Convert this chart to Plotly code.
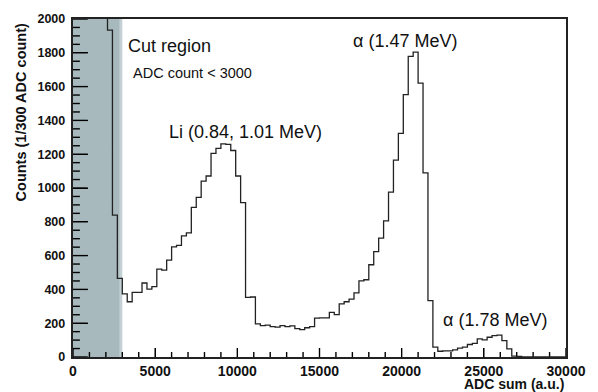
import numpy as np
import plotly.graph_objects as go

# ---- data ----
bin_width = 300
x_min, x_max = 0, 30000
y_min, y_max = 0, 2000
# counts per 300-ADC bin, starting at 0 (first bins are off-scale)
counts = [
    6000, 6000, 6000, 6000, 6000, 6000, 6000, 1934, 840, 465,
    373, 327, 382, 382, 438, 402, 416, 520, 514, 573,
    652, 660, 717, 735, 885, 945, 1041, 1071, 1205, 1234,
    1261, 1258, 1222, 1071, 913, 353, 355, 196, 186, 189,
    180, 177, 186, 180, 184, 168, 162, 173, 180, 230,
    232, 231, 264, 251, 314, 327, 343, 379, 451, 457,
    546, 624, 703, 805, 976, 1165, 1323, 1553, 1779, 1804,
    1621, 1090, 333, 58, 34, 36, 36, 42, 52, 58,
    74, 81, 107, 101, 117, 127, 130, 97, 48, 5,
    3, 0, 0, 0, 0, 0, 0, 0, 0, 0,
]
cut_value = 3000
x_ticks = [0, 5000, 10000, 15000, 20000, 25000, 30000]
y_ticks = [0, 200, 400, 600, 800, 1000, 1200, 1400, 1600, 1800, 2000]
x_minor_step = 1000
y_minor_step = 50

labels = [
    # text, x, y, size
    ("Cut region", 3230, 1841, 18),
    ("ADC count < 3000", 3530, 1680, 14.5),
    ("Li (0.84, 1.01 MeV)", 5690, 1329, 18),
    ("α (1.47 MeV)", 16890, 1868, 18),
    ("α (1.78 MeV)", 22400, 218, 18),
]

# ---- layout geometry ----
W, H = 598, 392
ML, MR, MT, MB = 73, 24, 17, 35
plot_w = W - ML - MR
plot_h = H - MT - MB
x_per_px = (x_max - x_min) / plot_w
y_per_px = (y_max - y_min) / plot_h

# ---- build the step histogram ----
edges = np.arange(len(counts) + 1) * bin_width
xs = [float(v) for v in edges]
ys = [float(v) for v in counts] + [float(counts[-1])]

FONT = "Liberation Sans, Arial, Helvetica, sans-serif"

fig = go.Figure()

# cut region shading
fig.add_shape(type="rect", xref="x", yref="paper", x0=0, x1=cut_value * 0.95,
              y0=0, y1=1, fillcolor="#a7b9bd", line=dict(width=0), layer="below")
fig.add_shape(type="rect", xref="x", yref="paper", x0=cut_value * 0.95, x1=cut_value,
              y0=0, y1=1, fillcolor="#c3d1d4", line=dict(width=0), layer="below")

# ROOT-style inside ticks (major + minor) derived from the axis tick arrays
tx, ty = [], []
for v in range(x_min, x_max + 1, x_minor_step):
    length = (9 if v in x_ticks else 5) * y_per_px
    tx += [float(v), float(v), None]
    ty += [float(y_min), float(y_min + length), None]
for v in range(y_min, y_max + 1, y_minor_step):
    length = (15 if v in y_ticks else 7) * x_per_px
    tx += [float(x_min), float(x_min + length), None]
    ty += [float(v), float(v), None]
fig.add_trace(go.Scatter(x=tx, y=ty, mode="lines", connectgaps=False,
                         line=dict(color="#000000", width=1.4),
                         hoverinfo="skip", showlegend=False))

fig.add_trace(go.Scatter(
    x=xs, y=ys, mode="lines", line=dict(shape="hv", color="#222222", width=1.3),
    hoverinfo="skip", showlegend=False,
))

for text, lx, ly, size in labels:
    fig.add_annotation(x=lx, y=ly, xref="x", yref="y", text=text, showarrow=False,
                       xanchor="left", yanchor="middle",
                       font=dict(family=FONT, size=size, color="#111111"))

# axis titles (ROOT style: right/top aligned)
fig.add_annotation(x=1, y=-0.081, xref="paper", yref="paper", text="ADC sum (a.u.)",
                   showarrow=False, xanchor="right", yanchor="middle",
                   font=dict(family=FONT, size=14, color="#111111", weight="bold"))
fig.add_annotation(x=-0.106, y=0.992, xref="paper", yref="paper",
                   text="Counts (1/300 ADC count)", textangle=-90,
                   showarrow=False, xanchor="center", yanchor="top",
                   font=dict(family=FONT, size=14.5, color="#111111", weight="bold"))

fig.update_xaxes(
    range=[x_min, x_max], tickmode="array", tickvals=x_ticks,
    ticktext=[str(v) for v in x_ticks],
    ticks="inside", ticklen=9, tickwidth=1, tickcolor="#000000",
    showline=True, linecolor="#222222", linewidth=1.5, mirror=True,
    showgrid=False, zeroline=False,
    tickfont=dict(family=FONT, size=14, color="#111111", weight="bold"),
)
fig.update_yaxes(
    range=[y_min, y_max], tickmode="array", tickvals=y_ticks,
    ticktext=[str(v) + "\u00a0" for v in y_ticks],
    ticks="inside", ticklen=15, tickwidth=1, tickcolor="#000000",
    showline=True, linecolor="#222222", linewidth=1.5, mirror=True,
    showgrid=False, zeroline=False,
    tickfont=dict(family=FONT, size=12.5, color="#111111", weight="bold"),
)

fig.update_layout(
    width=W, height=H,
    margin=dict(l=ML, r=MR, t=MT, b=MB),
    paper_bgcolor="white", plot_bgcolor="white",
    showlegend=False,
)

fig.write_html("out.html")
